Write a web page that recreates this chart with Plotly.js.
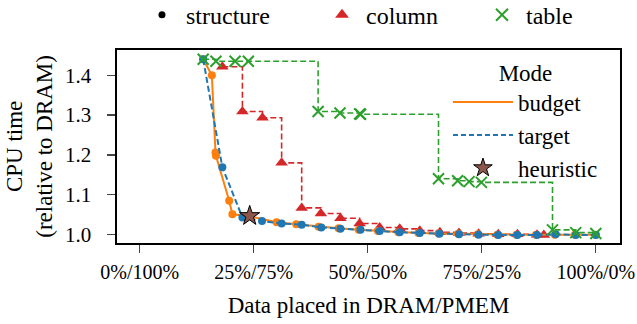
<!DOCTYPE html>
<html><head><meta charset="utf-8">
<script src="https://cdn.plot.ly/plotly-3.0.1.min.js"></script>
<style>html,body{margin:0;padding:0;background:#fff}#chart{width:637px;height:324px}</style>
</head><body><div id="chart"></div>
<script>
// x = fraction of data placed in DRAM, y = CPU time relative to DRAM
const budgetX = [0.139,0.158,0.166,0.167,0.196,0.203,0.241,0.300,0.343,0.392,0.436,0.480,0.522,0.567,0.611,0.655,0.698,0.741,0.784,0.826,0.869,0.910,0.954,1.000];
const budgetY = [1.440,1.400,1.206,1.198,1.085,1.051,1.046,1.031,1.026,1.020,1.016,1.012,1.009,1.006,1.004,1.003,1.002,1.001,1.000,1.000,1.000,1.000,1.000,1.000];
const targetX = [0.139,0.181,0.225,0.268,0.311,0.355,0.398,0.440,0.484,0.526,0.570,0.614,0.657,0.700,0.743,0.786,0.828,0.871,0.912,0.956,1.000];
const targetY = [1.440,1.169,1.043,1.034,1.028,1.025,1.018,1.0145,1.012,1.009,1.006,1.004,1.002,1.001,1.000,0.999,0.999,0.999,1.001,0.999,0.999];
const columnX = [0.181,0.225,0.269,0.311,0.355,0.397,0.440,0.482,0.526,0.570,0.614,0.658,0.700,0.743,0.786,0.828,0.871,0.886];
const columnY = [1.421,1.309,1.293,1.180,1.067,1.053,1.041,1.028,1.018,1.0145,1.010,1.006,1.004,1.002,1.001,1.001,1.000,0.999];
const tableX = [0.139,0.167,0.209,0.238,0.391,0.439,0.482,0.484,0.655,0.697,0.722,0.749,0.905,0.956,1.000];
const tableY = [1.440,1.435,1.435,1.435,1.309,1.305,1.303,1.302,1.140,1.135,1.133,1.131,1.012,1.005,1.003];
const heuristicX = [0.241];
const heuristicY = [1.047];
const xTickVals = [0,0.25,0.5,0.75,1];
const xTickText = ['0%/100%','25%/75%','50%/50%','75%/25%','100%/0%'];
const yTickVals = [1.0,1.1,1.2,1.3,1.4];
const yTickText = ['1.0','1.1','1.2','1.3','1.4'];

const BLUE='#1f77b4', ORANGE='#ff7f0e', GREEN='#2ca02c', RED='#d62728', BROWN='#8c564b';
const F = (s)=>({family:'Liberation Serif',size:s,color:'#000'});
const traces = [
  {x:columnX,y:columnY,mode:'lines+markers',line:{shape:'hv',color:RED,width:1.6,dash:'6px,3px'},
   marker:{symbol:'triangle-up',size:11,color:RED},showlegend:false},
  {x:budgetX,y:budgetY,mode:'lines+markers',line:{color:ORANGE,width:2},
   marker:{symbol:'circle',size:8,color:ORANGE},showlegend:false},
  {x:targetX,y:targetY,mode:'lines+markers',line:{color:BLUE,width:2,dash:'6px,3px'},
   marker:{symbol:'circle',size:8,color:BLUE},showlegend:false},
  {x:tableX,y:tableY,mode:'lines+markers',line:{shape:'hv',color:GREEN,width:1.6,dash:'6px,3px'},
   marker:{symbol:'x-thin-open',size:11,color:GREEN,line:{color:GREEN,width:2}},showlegend:false},
  {x:heuristicX,y:heuristicY,mode:'markers',marker:{symbol:'star',size:15,color:BROWN,line:{color:'#000',width:1}},showlegend:false},
  {x:[null],y:[null],name:'structure',mode:'markers',marker:{symbol:'circle',size:7,color:'#000'},legend:'legend'},
  {x:[null],y:[null],name:'column',mode:'markers',marker:{symbol:'triangle-up',size:12,color:RED},legend:'legend3'},
  {x:[null],y:[null],name:'table',mode:'markers',marker:{symbol:'x-thin-open',size:12,color:GREEN,line:{color:GREEN,width:2}},legend:'legend4'},
  {x:[null],y:[null],name:'budget',mode:'lines',line:{color:ORANGE,width:2},legend:'legend2',legendgroup:'a'},
  {x:[null],y:[null],name:'target',mode:'lines',line:{color:BLUE,width:2,dash:'5px,3px'},legend:'legend2',legendgroup:'b'},
  {x:[null],y:[null],name:'heuristic',mode:'markers',marker:{symbol:'star',size:14,color:BROWN,line:{color:'#000',width:1}},legend:'legend2',legendgroup:'c'}
];
const topLeg = (x)=>({orientation:'h',x:x,xanchor:'left',yref:'container',y:0.953,yanchor:'middle',itemwidth:38,bgcolor:'rgba(0,0,0,0)',font:F(24)});
const layout = {
  width:637,height:324,
  margin:{l:117,r:17,t:43,b:81},
  paper_bgcolor:'#fff',plot_bgcolor:'#fff',
  font:F(23),
  xaxis:{range:[-0.05,1.053],tickvals:xTickVals,ticktext:xTickText,ticks:'outside',ticklen:8,tickwidth:1.3,tickfont:F(20),ticklabelstandoff:2,
    showline:true,linecolor:'#000',linewidth:1.6,mirror:true,showgrid:false,zeroline:false,
    title:{text:'Data placed in DRAM/PMEM',standoff:15,font:F(23)}},
  yaxis:{range:[0.979,1.4638],tickvals:yTickVals,ticktext:yTickText,ticks:'outside',ticklen:8,tickwidth:1.3,tickfont:F(21),ticklabelstandoff:12,
    showline:true,linecolor:'#000',linewidth:1.6,mirror:true,showgrid:false,zeroline:false,
    title:{text:'CPU time<br>(relative to DRAM)',standoff:6,font:F(23)}},
  legend:topLeg(0.0417),
  legend3:topLeg(0.3996),
  legend4:topLeg(0.7177),
  legend2:{x:0.658,xanchor:'left',y:0.995,yanchor:'top',bgcolor:'rgba(0,0,0,0)',tracegroupgap:0,itemwidth:60,
    title:{text:'Mode',side:'top center',font:F(23)},font:F(23)}
};
Plotly.newPlot('chart',traces,layout,{staticPlot:true,displayModeBar:false});
</script></body></html>
